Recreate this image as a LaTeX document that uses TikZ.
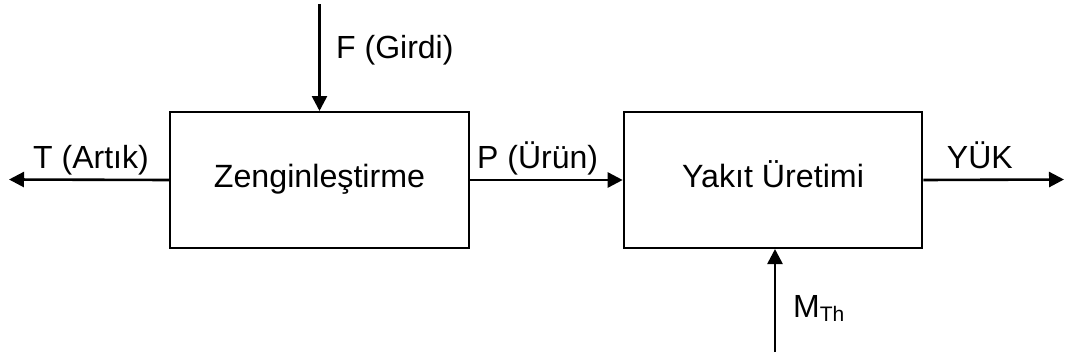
\documentclass[tikz,border=0pt]{standalone}
\usepackage{fontspec}
\setmainfont{Liberation Sans}
\usetikzlibrary{arrows.meta}
\begin{document}
\begin{tikzpicture}[x=1pt,y=-1pt,
  blk/.style={draw, line width=2pt, minimum height=136pt, text height=22pt, text depth=7pt, inner sep=0pt, font=\fontsize{32.2}{36}\selectfont},
  lbl/.style={inner sep=0pt, anchor=base west, font=\fontsize{32}{36}\selectfont},
  flow/.style={line width=2.6pt, -{Triangle[length=15pt,width=15pt]}}]
\useasboundingbox (0,0) rectangle (1066,356);
\node[blk, minimum width=299pt] (z) at (319.5,180) {Zenginle\c{s}tirme};
\node[blk, minimum width=298.6pt] (y) at (773,180) {Yak\i t \"Uretimi};
\coordinate (fs) at (319.5,4);
\coordinate (te) at (9,179.5);
\coordinate (ye) at (1064,179.5);
\coordinate (ms) at (775,352);
\draw[flow] (fs) -- (fs |- z.north);
\draw[flow] (z.west) -- (te);
\draw[flow] (z.east) -- (y.west);
\draw[flow] (y.east) -- (ye);
\draw[flow] (ms) -- (ms |- y.south);
\node[lbl] (fl) at (336,58) {F (Girdi)};
\node[lbl] (tl) at (33,168) {T (Art\i k)};
\node[lbl] (pl) at (477,168) {P (\"Ur\"un)};
\node[lbl] (yl) at (946.7,168) {Y\"UK};
\node[lbl] (ml) at (793,317) {M\raisebox{-4pt}{\fontsize{21}{24}\selectfont Th}};
\end{tikzpicture}
\end{document}
